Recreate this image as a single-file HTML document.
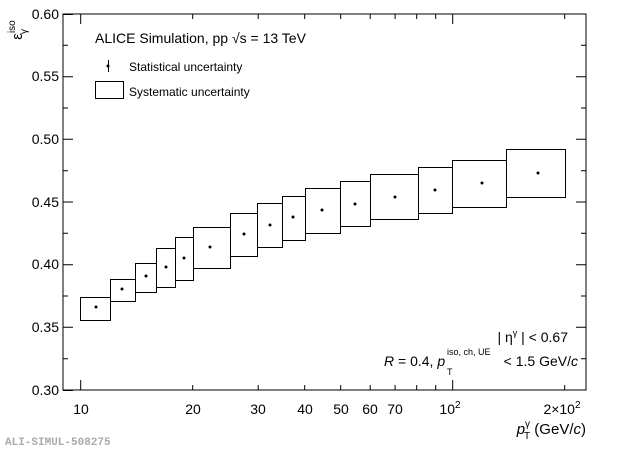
<!DOCTYPE html>
<html><head><meta charset="utf-8"><style>
body{margin:0;background:#fff;}
svg{display:block;font-family:"Liberation Sans",sans-serif;}
</style></head><body>
<svg width="620" height="451" viewBox="0 0 620 451" xmlns="http://www.w3.org/2000/svg">
<rect x="63" y="14" width="523" height="376" fill="none" stroke="#000" stroke-width="1"/>
<g stroke="#000" stroke-width="1">
<path d="M63 390.5h10M63 327.3h10M63 264.7h10M63 202h10M63 139.3h10M63 76.7h10M63 14.5h10
M63 358.7h5M63 296h5M63 233.3h5M63 170.7h5M63 108h5M63 45.3h5
M586 327.3h-10M586 264.7h-10M586 202h-10M586 139.3h-10M586 76.7h-10
M586 358.7h-5M586 296h-5M586 233.3h-5M586 170.7h-5M586 108h-5M586 45.3h-5"/>
<path d="M80.7 390v-10M452.7 390v-10M80.7 14v10M452.7 14v10
M192.7 390v-5M258.2 390v-5M304.7 390v-5M340.7 390v-5M370.2 390v-5M395.1 390v-5M416.7 390v-5M435.7 390v-5M564.7 390v-5
M192.7 14v5M258.2 14v5M304.7 14v5M340.7 14v5M370.2 14v5M395.1 14v5M416.7 14v5M435.7 14v5M564.7 14v5"/>
</g>
<g fill="none" stroke="#000" stroke-width="1">
<rect x="80.5" y="297.5" width="30" height="23"/>
<rect x="110.5" y="279.5" width="25" height="22"/>
<rect x="135.5" y="263.5" width="21" height="29"/>
<rect x="156.5" y="248.5" width="19" height="39"/>
<rect x="175.5" y="237.5" width="18" height="43"/>
<rect x="193.5" y="227.5" width="37" height="41"/>
<rect x="230.5" y="213.5" width="27" height="43"/>
<rect x="257.5" y="203.5" width="25" height="44"/>
<rect x="282.5" y="196.5" width="23" height="44"/>
<rect x="305.5" y="188.5" width="35" height="45"/>
<rect x="340.5" y="181.5" width="30" height="45"/>
<rect x="370.5" y="174.5" width="48" height="45"/>
<rect x="418.5" y="167.5" width="34" height="46"/>
<rect x="452.5" y="160.5" width="54" height="47"/>
<rect x="506.5" y="149.5" width="59" height="48"/>
<rect x="95.5" y="81.5" width="28" height="17"/>
</g>
<g fill="#000">
<circle cx="96" cy="307" r="1.5"/><circle cx="122" cy="289" r="1.5"/><circle cx="146" cy="276" r="1.5"/>
<circle cx="166" cy="267" r="1.5"/><circle cx="184" cy="258" r="1.5"/><circle cx="210" cy="247" r="1.5"/>
<circle cx="244" cy="234" r="1.5"/><circle cx="270" cy="225" r="1.5"/><circle cx="293" cy="217" r="1.5"/>
<circle cx="322" cy="210" r="1.5"/><circle cx="355" cy="204" r="1.5"/><circle cx="395" cy="197" r="1.5"/>
<circle cx="435" cy="190" r="1.5"/><circle cx="482" cy="183" r="1.5"/><circle cx="538" cy="173" r="1.5"/>
<circle cx="108" cy="66" r="1.5"/>
</g>
<path d="M108.5 60v12" stroke="#000"/>
<g font-size="14" text-anchor="end">
<text x="59" y="395">0.30</text><text x="59" y="332">0.35</text><text x="59" y="269">0.40</text>
<text x="59" y="207">0.45</text><text x="59" y="144">0.50</text><text x="59" y="81">0.55</text><text x="59" y="19">0.60</text>
</g>
<g font-size="14" text-anchor="middle">
<text x="81" y="414">10</text><text x="193" y="414">20</text><text x="258" y="414">30</text><text x="305" y="414">40</text>
<text x="341" y="414">50</text><text x="370" y="414">60</text><text x="395" y="414">70</text>
<text x="450" y="414">10<tspan font-size="10" dy="-6">2</tspan></text>
<text x="562" y="414">2×10<tspan font-size="10" dy="-6">2</tspan></text>
</g>
<text x="586" y="434" font-size="15" text-anchor="end"><tspan font-style="italic">p</tspan><tspan font-size="10" dy="-7">γ</tspan><tspan font-size="10" dx="-6" dy="12">T</tspan><tspan dy="-5"> (GeV/</tspan><tspan font-style="italic">c</tspan>)</text>
<text transform="translate(22,30) rotate(-90)" font-size="15" text-anchor="middle"><tspan>ε</tspan><tspan font-size="10" dy="-7">iso</tspan></text>
<text transform="translate(27,34) rotate(-90)" font-size="10">γ</text>
<text x="95" y="43" font-size="14">ALICE Simulation, pp √s = 13 TeV</text>
<text x="129" y="71" font-size="12">Statistical uncertainty</text>
<text x="129" y="96" font-size="12">Systematic uncertainty</text>
<text x="568" y="342" font-size="14" text-anchor="end">| η<tspan font-size="9" dy="-6">γ</tspan><tspan dy="6"> | &lt; 0.67</tspan></text>
<text x="384" y="366" font-size="14"><tspan font-style="italic">R</tspan> = 0.4, <tspan font-style="italic">p</tspan></text>
<text x="447" y="355" font-size="9">iso, ch, UE</text>
<text x="447" y="375" font-size="9">T</text>
<text x="578" y="366" font-size="14" text-anchor="end">&lt; 1.5 GeV/<tspan font-style="italic">c</tspan></text>
<text x="5" y="445" font-size="11" font-weight="bold" fill="#aaa" font-family="Liberation Mono,monospace">ALI-SIMUL-508275</text>
</svg>
</body></html>
